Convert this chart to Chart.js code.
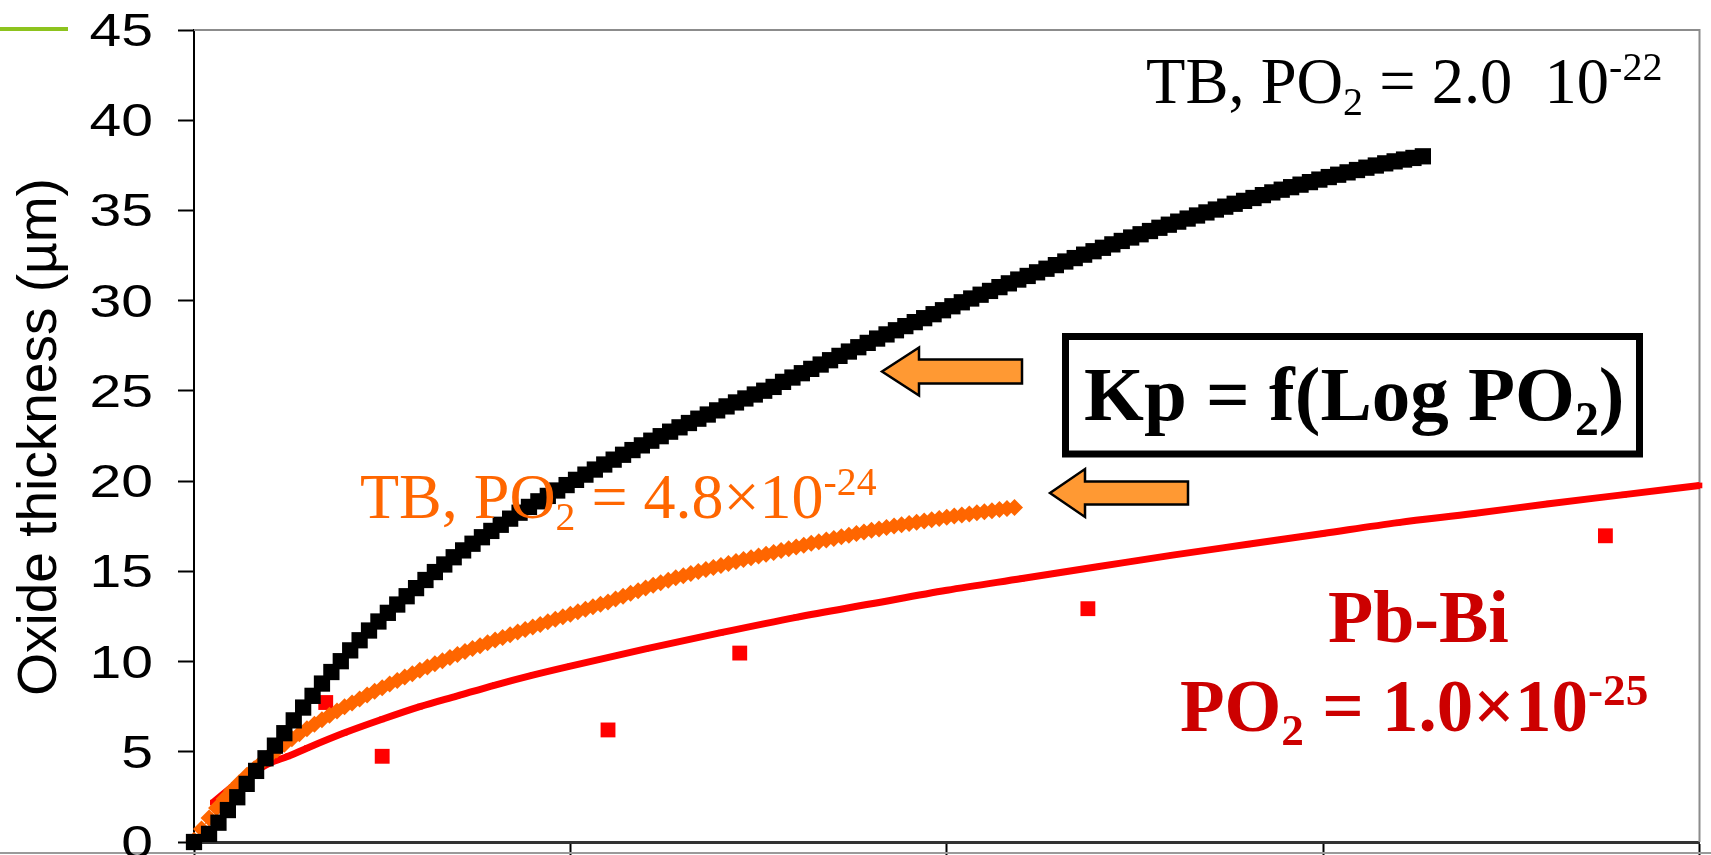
<!DOCTYPE html>
<html lang="en">
<head>
<meta charset="UTF-8">
<title>Oxide thickness</title>
<script src="https://cdn.jsdelivr.net/npm/chart.js"></script>
<style>
  html, body { margin: 0; padding: 0; background: #fff; }
  #wrap { width: 1711px; height: 855px; overflow: hidden; }
</style>
</head>
<body>
<div id="wrap"><canvas id="oxChart" width="1711" height="855"></canvas></div>
<script>
// values: x = exposure time (h), y = oxide thickness (µm)
const blackHours = [
  0,40,65,90,115,140,165,190,215,240,265,290,315,340,365,390,415,440,465,490,
  515,540,565,590,615,640,665,690,715,740,765,790,815,840,865,890,915,940,965,990,
  1015,1040,1065,1090,1115,1140,1165,1190,1215,1240,1265,1290,1315,1340,1365,1390,1415,1440,1465,1490,
  1515,1540,1565,1590,1615,1640,1665,1690,1715,1740,1765,1790,1815,1840,1865,1890,1915,1940,1965,1990,
  2015,2040,2065,2090,2115,2140,2165,2190,2215,2240,2265,2290,2315,2340,2365,2390,2415,2440,2465,2490,
  2515,2540,2565,2590,2615,2640,2665,2690,2715,2740,2765,2790,2815,2840,2865,2890,2915,2940,2965,2990,
  3015,3040,3065,3090,3115,3140,3165,3190,3215,3240,3265
];
const blackThick = [
  0,0.45,1.07,1.77,2.48,3.22,3.94,4.64,5.34,6.03,6.74,7.45,8.1,8.78,9.42,10.02,10.62,11.18,11.72,12.22,
  12.7,13.16,13.62,14.07,14.52,14.96,15.38,15.78,16.16,16.53,16.89,17.24,17.58,17.92,18.25,18.57,18.88,19.18,19.48,19.78,
  20.07,20.36,20.64,20.92,21.19,21.46,21.72,21.98,22.24,22.49,22.74,22.98,23.22,23.46,23.69,23.92,24.14,24.36,24.58,24.8,
  25.01,25.22,25.5,25.74,25.98,26.22,26.46,26.7,26.94,27.18,27.42,27.66,27.9,28.13,28.36,28.59,28.81,29.03,29.25,29.47,
  29.69,29.91,30.12,30.33,30.54,30.75,30.96,31.17,31.37,31.57,31.77,31.97,32.17,32.36,32.55,32.74,32.93,33.12,33.31,33.5,
  33.68,33.86,34.04,34.21,34.38,34.55,34.72,34.89,35.05,35.21,35.37,35.53,35.69,35.85,36.0,36.15,36.29,36.43,36.57,36.71,
  36.85,36.98,37.11,37.24,37.37,37.49,37.61,37.72,37.82,37.91,38.0
];

const orangeHours = [
  0,20,40,60,80,100,120,140,160,180,200,220,240,260,280,300,320,340,360,380,
  400,420,440,460,480,500,520,540,560,580,600,620,640,660,680,700,720,740,760,780,
  800,820,840,860,880,900,920,940,960,980,1000,1020,1040,1060,1080,1100,1120,1140,1160,1180,
  1200,1220,1240,1260,1280,1300,1320,1340,1360,1380,1400,1420,1440,1460,1480,1500,1520,1540,1560,1580,
  1600,1620,1640,1660,1680,1700,1720,1740,1760,1780,1800,1820,1840,1860,1880,1900,1920,1940,1960,1980,
  2000,2020,2040,2060,2080,2100,2120,2140,2160,2180
];
const orangeThick = [
  0.1,0.72,1.33,1.88,2.38,2.85,3.28,3.68,4.06,4.42,4.77,5.1,5.42,5.72,6.0,6.27,6.53,6.78,7.02,7.26,
  7.49,7.71,7.93,8.14,8.35,8.55,8.75,8.95,9.14,9.33,9.52,9.7,9.88,10.05,10.22,10.39,10.56,10.72,10.88,11.04,
  11.19,11.34,11.49,11.64,11.78,11.92,12.06,12.2,12.34,12.48,12.62,12.76,12.9,13.04,13.17,13.3,13.46,13.62,13.78,13.93,
  14.08,14.23,14.37,14.51,14.64,14.76,14.88,14.99,15.1,15.21,15.32,15.43,15.54,15.65,15.75,15.85,15.95,16.05,16.15,16.25,
  16.35,16.45,16.55,16.64,16.73,16.82,16.91,17.0,17.09,17.18,17.27,17.35,17.43,17.51,17.58,17.65,17.72,17.79,17.86,17.93,
  18.0,18.06,18.12,18.18,18.24,18.3,18.36,18.42,18.48,18.54
];

const pbbiFitHours = [50,100,150,200,250,300,400,500,600,700,800,900,1000,1200,1400,1600,1800,2000,2200,2400,2600,2800,3000,3200,3400,3600,3800,4000];
const pbbiFitThick = [2.18,3.03,3.75,4.36,4.75,5.2,6.05,6.8,7.5,8.1,8.7,9.25,9.75,10.7,11.6,12.45,13.2,13.95,14.6,15.25,15.9,16.5,17.1,17.7,18.2,18.75,19.25,19.76];

const pbbiExpHours = [350, 500, 1100, 1450, 2375, 3750];
const pbbiExpThick = [7.73, 4.75, 6.21, 10.47, 12.93, 16.97];

const yTickValues = [0, 5, 10, 15, 20, 25, 30, 35, 40, 45];
const yTitle = 'Oxide thickness (\u00b5m)';

function toPoints(xs, ys) {
  return xs.map((x, i) => ({ x: x, y: ys[i] }));
}

// text with sub/superscript pieces
function richText(ctx, parts, x, y, size, weight, color) {
  let cx = x;
  ctx.fillStyle = color;
  ctx.textAlign = 'left';
  ctx.textBaseline = 'alphabetic';
  parts.forEach(p => {
    const small = p.sub || p.sup;
    const s = small ? size * 0.62 : size;
    ctx.font = weight + ' ' + s + 'px "Liberation Serif", "Times New Roman", serif';
    const dy = p.sub ? size * 0.19 : (p.sup ? -size * 0.36 : 0);
    ctx.fillText(p.t, cx, y + dy);
    cx += ctx.measureText(p.t).width;
  });
}

function drawArrow(ctx, tipX, baseX, endX, cy, headHalf, bodyHalf) {
  ctx.beginPath();
  ctx.moveTo(tipX, cy);
  ctx.lineTo(baseX, cy - headHalf);
  ctx.lineTo(baseX, cy - bodyHalf);
  ctx.lineTo(endX, cy - bodyHalf);
  ctx.lineTo(endX, cy + bodyHalf);
  ctx.lineTo(baseX, cy + bodyHalf);
  ctx.lineTo(baseX, cy + headHalf);
  ctx.closePath();
  ctx.fillStyle = '#ff9933';
  ctx.fill();
  ctx.lineWidth = 2.5;
  ctx.strokeStyle = '#000';
  ctx.lineJoin = 'miter';
  ctx.stroke();
}

const overlay = {
  id: 'overlay',
  beforeDraw(chart) {
    const ctx = chart.ctx;
    ctx.save();
    ctx.fillStyle = '#fff';
    ctx.fillRect(0, 0, chart.width, chart.height);
    ctx.restore();
  },
  beforeDatasetsDraw(chart) {
    const ctx = chart.ctx, a = chart.chartArea;
    ctx.save();
    ctx.strokeStyle = '#8c8c8c';
    ctx.lineWidth = 2;
    ctx.beginPath();
    ctx.moveTo(a.left, a.top);
    ctx.lineTo(a.right, a.top);
    ctx.lineTo(a.right, a.bottom);
    ctx.stroke();
    ctx.restore();
  },
  afterDraw(chart) {
    const ctx = chart.ctx, ys = chart.scales.y;
    ctx.save();

    // slide decorations
    ctx.strokeStyle = '#8dc31e';
    ctx.lineWidth = 4;
    ctx.beginPath(); ctx.moveTo(0, 29); ctx.lineTo(68, 29); ctx.stroke();
    ctx.strokeStyle = '#9a9a9a';
    ctx.lineWidth = 2;
    ctx.beginPath(); ctx.moveTo(0, 853); ctx.lineTo(chart.width, 853); ctx.stroke();

    // y tick labels (wide Arial look)
    ctx.fillStyle = '#000';
    ctx.font = '46px "Liberation Sans", Arial, sans-serif';
    ctx.textAlign = 'right';
    ctx.textBaseline = 'alphabetic';
    yTickValues.forEach(v => {
      const py = ys.getPixelForValue(v);
      ctx.save();
      ctx.translate(153, py + 16);
      ctx.scale(1.24, 1);
      ctx.fillText(String(v), 0, 0);
      ctx.restore();
    });

    // y axis title
    ctx.save();
    ctx.translate(56, 437);
    ctx.rotate(-Math.PI / 2);
    ctx.textAlign = 'center';
    ctx.font = '55px "Liberation Sans", Arial, sans-serif';
    ctx.fillText(yTitle, 0, 0);
    ctx.restore();

    // series labels
    richText(ctx, [{ t: 'TB, PO' }, { t: '2', sub: true }, { t: ' = 2.0  10' }, { t: '-22', sup: true }],
      1146, 103, 64.5, 'normal', '#000');
    richText(ctx, [{ t: 'TB, PO' }, { t: '2', sub: true }, { t: ' = 4.8\u00d710' }, { t: '-24', sup: true }],
      360, 518, 64, 'normal', '#ff6600');
    richText(ctx, [{ t: 'Pb-Bi' }], 1328, 642, 74, 'bold', '#cc0000');
    richText(ctx, [{ t: 'PO' }, { t: '2', sub: true }, { t: ' = 1.0\u00d710' }, { t: '-25', sup: true }],
      1180, 731, 73, 'bold', '#cc0000');

    // Kp box
    ctx.strokeStyle = '#000';
    ctx.lineWidth = 7;
    ctx.strokeRect(1065.5, 336.5, 574, 117.5);
    richText(ctx, [{ t: 'Kp = f(Log PO' }, { t: '2', sub: true }, { t: ')' }],
      1084, 420, 77, 'bold', '#000');

    // arrows
    drawArrow(ctx, 882, 919, 1022, 371.5, 24, 12);
    drawArrow(ctx, 1050, 1085, 1188, 493, 24, 11.5);

    ctx.restore();
  }
};

const ctx = document.getElementById('oxChart').getContext('2d');
new Chart(ctx, {
  type: 'scatter',
  data: {
    datasets: [
      {
        label: 'TB, PO2 = 2.0 10-22',
        data: toPoints(blackHours, blackThick),
        showLine: true,
        borderColor: '#000',
        borderWidth: 1,
        pointStyle: 'rect',
        pointRadius: 11.5,
        pointBackgroundColor: '#000',
        pointBorderWidth: 0,
        clip: false
      },
      {
        label: 'TB, PO2 = 4.8x10-24',
        data: toPoints(orangeHours, orangeThick),
        showLine: true,
        borderColor: '#ff6600',
        borderWidth: 1,
        pointStyle: 'rectRot',
        pointRadius: 8.5,
        pointBackgroundColor: '#ff6600',
        pointBorderWidth: 0,
        clip: false
      },
      {
        label: 'Pb-Bi fit',
        data: toPoints(pbbiFitHours, pbbiFitThick),
        showLine: true,
        borderColor: '#ff0000',
        borderWidth: 7,
        cubicInterpolationMode: 'monotone',
        pointStyle: 'rect',
        pointRadius: 4,
        pointBackgroundColor: '#ff0000',
        pointBorderWidth: 0,
        clip: false
      },
      {
        label: 'Pb-Bi',
        data: toPoints(pbbiExpHours, pbbiExpThick),
        showLine: false,
        pointStyle: 'rect',
        pointRadius: 10.5,
        pointBackgroundColor: '#ff0000',
        pointBorderWidth: 0,
        clip: false
      }
    ]
  },
  options: {
    responsive: false,
    animation: false,
    devicePixelRatio: 1,
    events: [],
    layout: { padding: { top: 30, right: 11, bottom: 0, left: 0 } },
    plugins: { legend: { display: false }, tooltip: { enabled: false } },
    scales: {
      x: {
        type: 'linear', min: 0, max: 4000,
        ticks: { stepSize: 1000, display: false },
        grid: { drawOnChartArea: false, drawTicks: true, tickLength: 14, tickColor: '#000', tickWidth: 2 },
        border: { color: '#333', width: 3 },
        afterFit(scale) { scale.height = 13; }
      },
      y: {
        min: 0, max: 45,
        ticks: { stepSize: 5, display: false },
        grid: { drawOnChartArea: false, drawTicks: true, tickLength: 16, tickColor: '#000', tickWidth: 2 },
        border: { color: '#000', width: 2 },
        afterFit(scale) { scale.width = 194; }
      }
    }
  },
  plugins: [overlay]
});
</script>
</body>
</html>
